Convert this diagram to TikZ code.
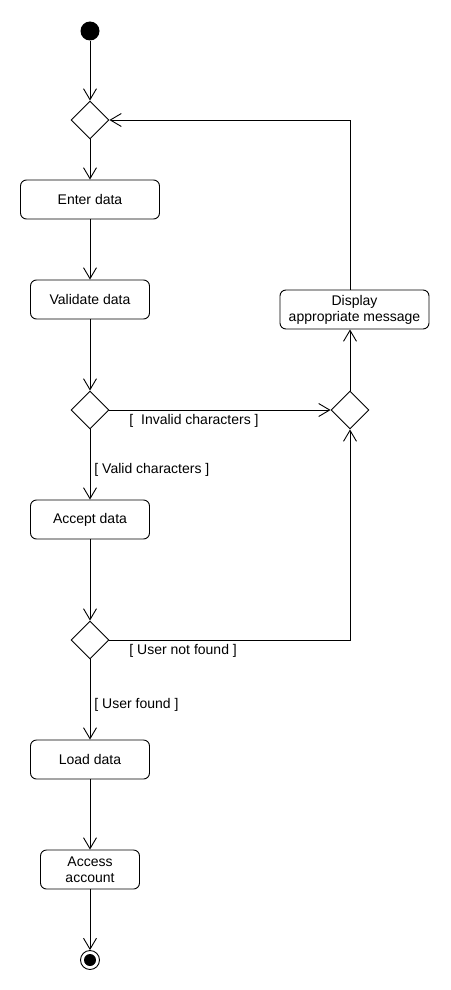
\documentclass[tikz,border=0pt]{standalone}
\usepackage{fontspec}
\setmainfont{Liberation Sans}
\usetikzlibrary{shapes.geometric,arrows.meta}
\begin{document}
\begin{tikzpicture}[x=1pt,y=-1pt,line width=0.9pt,
  act/.style={draw,rounded corners=6pt,inner sep=0pt,minimum height=39pt,align=center,font=\fontsize{14}{16}\selectfont},
  dec/.style={draw,diamond,inner sep=0pt,minimum width=38pt,minimum height=38pt},
  lbl/.style={anchor=base west,inner sep=0pt,font=\fontsize{14}{16}\selectfont},
  flow/.style={-{Straight Barb[length=11pt,width=13pt,line width=0.9pt]}}]
\useasboundingbox (0,0) rectangle (450,990);
\node[circle,fill,inner sep=0pt,minimum size=19pt] (start) at (90,31) {};
\node[dec] (d1) at (90,120) {};
\node[act,minimum width=139pt] (enter) at (90,199.5) {Enter data};
\node[act,minimum width=119pt] (valid) at (90,299.5) {Validate data};
\node[act,minimum width=149pt] (disp) at (354.5,309.5) {Display\\appropriate message};
\node[dec] (d2) at (90,410) {};
\node[dec] (dr) at (350,410) {};
\node[act,minimum width=119pt] (accept) at (90,519.5) {Accept data};
\node[dec] (d3) at (90,640) {};
\node[act,minimum width=119pt] (load) at (90,759.5) {Load data};
\node[act,minimum width=99pt] (access) at (90,869.5) {Access\\account};
\node[circle,draw,inner sep=0pt,minimum size=19pt] (end) at (90,960) {};
\fill (end.center) circle (6pt);
\node[lbl] (linv) at (129,424) {[\ \ Invalid characters ]};
\node[lbl] (lval) at (94,473) {[ Valid characters ]};
\node[lbl] (lunf) at (129,654) {[ User not found ]};
\node[lbl] (luf) at (94,708) {[ User found ]};
\draw[flow] (start) -- (d1.north);
\draw[flow] (d1.south) -- (enter.north);
\draw[flow] (enter.south) -- (valid.north);
\draw[flow] (valid.south) -- (d2.north);
\draw[flow] (d2.south) -- (accept.north);
\draw[flow] (d2.east) -- (dr.west);
\draw[flow] (dr.north) -- (dr.north |- disp.south);
\draw[flow] (dr.north |- disp.north) |- (d1.east);
\draw[flow] (accept.south) -- (d3.north);
\draw[flow] (d3.east) -| (dr.south);
\draw[flow] (d3.south) -- (load.north);
\draw[flow] (load.south) -- (access.north);
\draw[flow] (access.south) -- (end.north);
\end{tikzpicture}
\end{document}
